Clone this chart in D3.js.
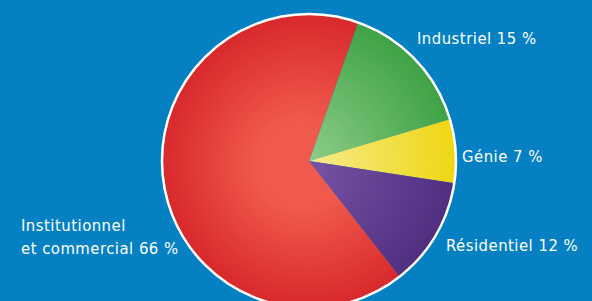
<!DOCTYPE html>
<html>
<head>
<meta charset="utf-8">
<script src="https://cdn.jsdelivr.net/npm/d3@7"></script>
<style>
  html, body { margin: 0; padding: 0; background: #0581c3; overflow: hidden; }
  svg { display: block; }
</style>
</head>
<body>
<svg id="chart"></svg>
<script>
// Répartition par secteur (%)
const sectors = ['Industriel', 'Génie', 'Résidentiel', 'Institutionnel et commercial'];
const shares = [15, 7, 12, 66];
const labelLines = [['Industriel 15 %'], ['Génie 7 %'], ['Résidentiel 12 %'], ['Institutionnel', 'et commercial 66 %']];
const innerColors = ['#93d08c', '#f7ec95', '#7a55a8', '#f05a4c'];
const outerColors = ['#3ea246', '#efd713', '#502e80', '#d8282c'];

const width = 592, height = 301;
const cx = 309, cy = 161, r = 147;

const svg = d3.select('#chart').attr('width', width).attr('height', height);
const defs = svg.append('defs');

// gradients live in the slice group's coords (origin = pie centre)
sectors.forEach((s, i) => {
  const grad = defs.append('radialGradient')
    .attr('id', `grad${i}`)
    .attr('gradientUnits', 'userSpaceOnUse')
    .attr('cx', 0).attr('cy', 0).attr('r', r)
    .attr('fx', -10).attr('fy', 5);
  grad.append('stop').attr('offset', i === 3 ? '0.3' : '0').attr('stop-color', innerColors[i]);
  grad.append('stop').attr('offset', '1').attr('stop-color', outerColors[i]);
});

const startAngle = 19.5 * Math.PI / 180;
const pie = d3.pie().sort(null).value(d => d)
  .startAngle(startAngle).endAngle(startAngle + 2 * Math.PI);
const arc = d3.arc().innerRadius(0).outerRadius(r);

const g = svg.append('g').attr('transform', `translate(${cx},${cy})`);
g.selectAll('path.slice')
  .data(pie(shares))
  .join('path')
  .attr('class', 'slice')
  .attr('d', arc)
  .attr('fill', (d, i) => `url(#grad${i})`);

g.append('circle')
  .attr('r', r)
  .attr('fill', 'none').attr('stroke', '#fff').attr('stroke-width', 2.5);

// labels
const labelPos = [
  { x: 417, y: 44 },
  { x: 462, y: 162 },
  { x: 446, y: 251 },
  { x: 21, y: 231 }
];
labelLines.forEach((lines, i) => {
  const t = svg.append('text')
    .attr('x', labelPos[i].x).attr('y', labelPos[i].y)
    .attr('fill', '#fff')
    .attr('font-family', '"DejaVu Sans Condensed", "DejaVu Sans", sans-serif')
    .attr('font-stretch', 'condensed')
    .attr('font-size', '16.5px')
    .attr('letter-spacing', '0.5px');
  lines.forEach((line, j) => {
    t.append('tspan').attr('x', labelPos[i].x).attr('dy', j === 0 ? 0 : 22.5).text(line);
  });
});
</script>
</body>
</html>
